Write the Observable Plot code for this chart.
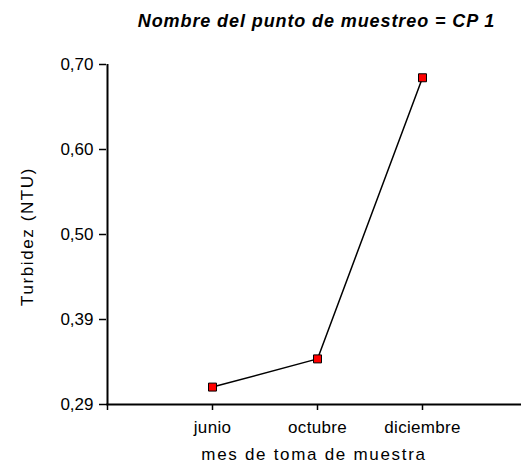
<!DOCTYPE html>
<html>
<head>
<meta charset="utf-8">
<script src="https://cdn.jsdelivr.net/npm/d3@7"></script>
<script src="https://cdn.jsdelivr.net/npm/@observablehq/plot@0.6"></script>
<style>
  html, body { margin: 0; padding: 0; background: #fff; }
  svg { display: block; }
</style>
</head>
<body>
<div id="chart"></div>
<script>
const titleText = "Nombre del punto de muestreo = CP 1";
const xLabelText = "mes de toma de muestra";
const yLabelText = "Turbidez (NTU)";
const months = ["junio", "octubre", "diciembre"];
const turbidez = [0.311, 0.345, 0.684];
const yTicks = [0.29, 0.3925, 0.495, 0.5975, 0.70];
const yTickLabels = ["0,29", "0,39", "0,50", "0,60", "0,70"];
const yDomain = [0.29, 0.70];

const data = months.map((m, i) => ({month: m, value: turbidez[i]}));
const xDomain = ["", ...months];

const chart = Plot.plot({
  width: 521,
  height: 467,
  marginLeft: 106,
  marginRight: 0,
  marginTop: 64,
  marginBottom: 63,
  style: {fontFamily: "'Liberation Sans', Arial, sans-serif", fontSize: "17px", color: "#000", background: "#fff"},
  x: {type: "point", domain: xDomain, range: [106, 422], padding: 0, axis: null},
  y: {domain: yDomain, axis: null},
  marks: [
    Plot.axisY({ticks: yTicks, tickFormat: (d, i) => yTickLabels[i], tickSize: 7, tickPadding: 6, strokeWidth: 1.5, label: null, fontSize: 17}),
    Plot.axisX({ticks: xDomain, tickFormat: d => d, tickSize: 6, tickPadding: 10, strokeWidth: 1.5, label: null, fontSize: 17}),
    Plot.ruleY([yDomain[0]], {stroke: "#000", strokeWidth: 2}),
    Plot.ruleX([xDomain[0]], {stroke: "#000", strokeWidth: 2}),
    Plot.line(data, {x: "month", y: "value", stroke: "#000", strokeWidth: 1.5}),
    Plot.dot(data, {x: "month", y: "value", symbol: "square", r: 4.5, fill: "#ff0000", stroke: "#000", strokeWidth: 1}),
    Plot.text([titleText], {frameAnchor: "top", lineAnchor: "bottom", dx: 2.5, dy: -38, fontSize: 18, fontWeight: "bold", fontStyle: "italic", fill: "#000"}),
    Plot.text([xLabelText], {frameAnchor: "bottom", lineAnchor: "bottom", dy: 55, fontSize: 17, fill: "#000"}),
    Plot.text([yLabelText], {frameAnchor: "left", textAnchor: "middle", lineAnchor: "bottom", rotate: -90, dx: -74, dy: 2, fontSize: 17, fill: "#000"})
  ]
});

const s = d3.select(chart);
const spacing = new Map([[titleText, "0.9px"], [xLabelText, "1.7px"], [yLabelText, "1.6px"]]);
months.forEach(m => spacing.set(m, "0.3px"));
s.selectAll("text").each(function () {
  const t = this.textContent;
  if (spacing.has(t)) d3.select(this).style("letter-spacing", spacing.get(t));
});
document.getElementById("chart").appendChild(chart);
</script>
</body>
</html>
